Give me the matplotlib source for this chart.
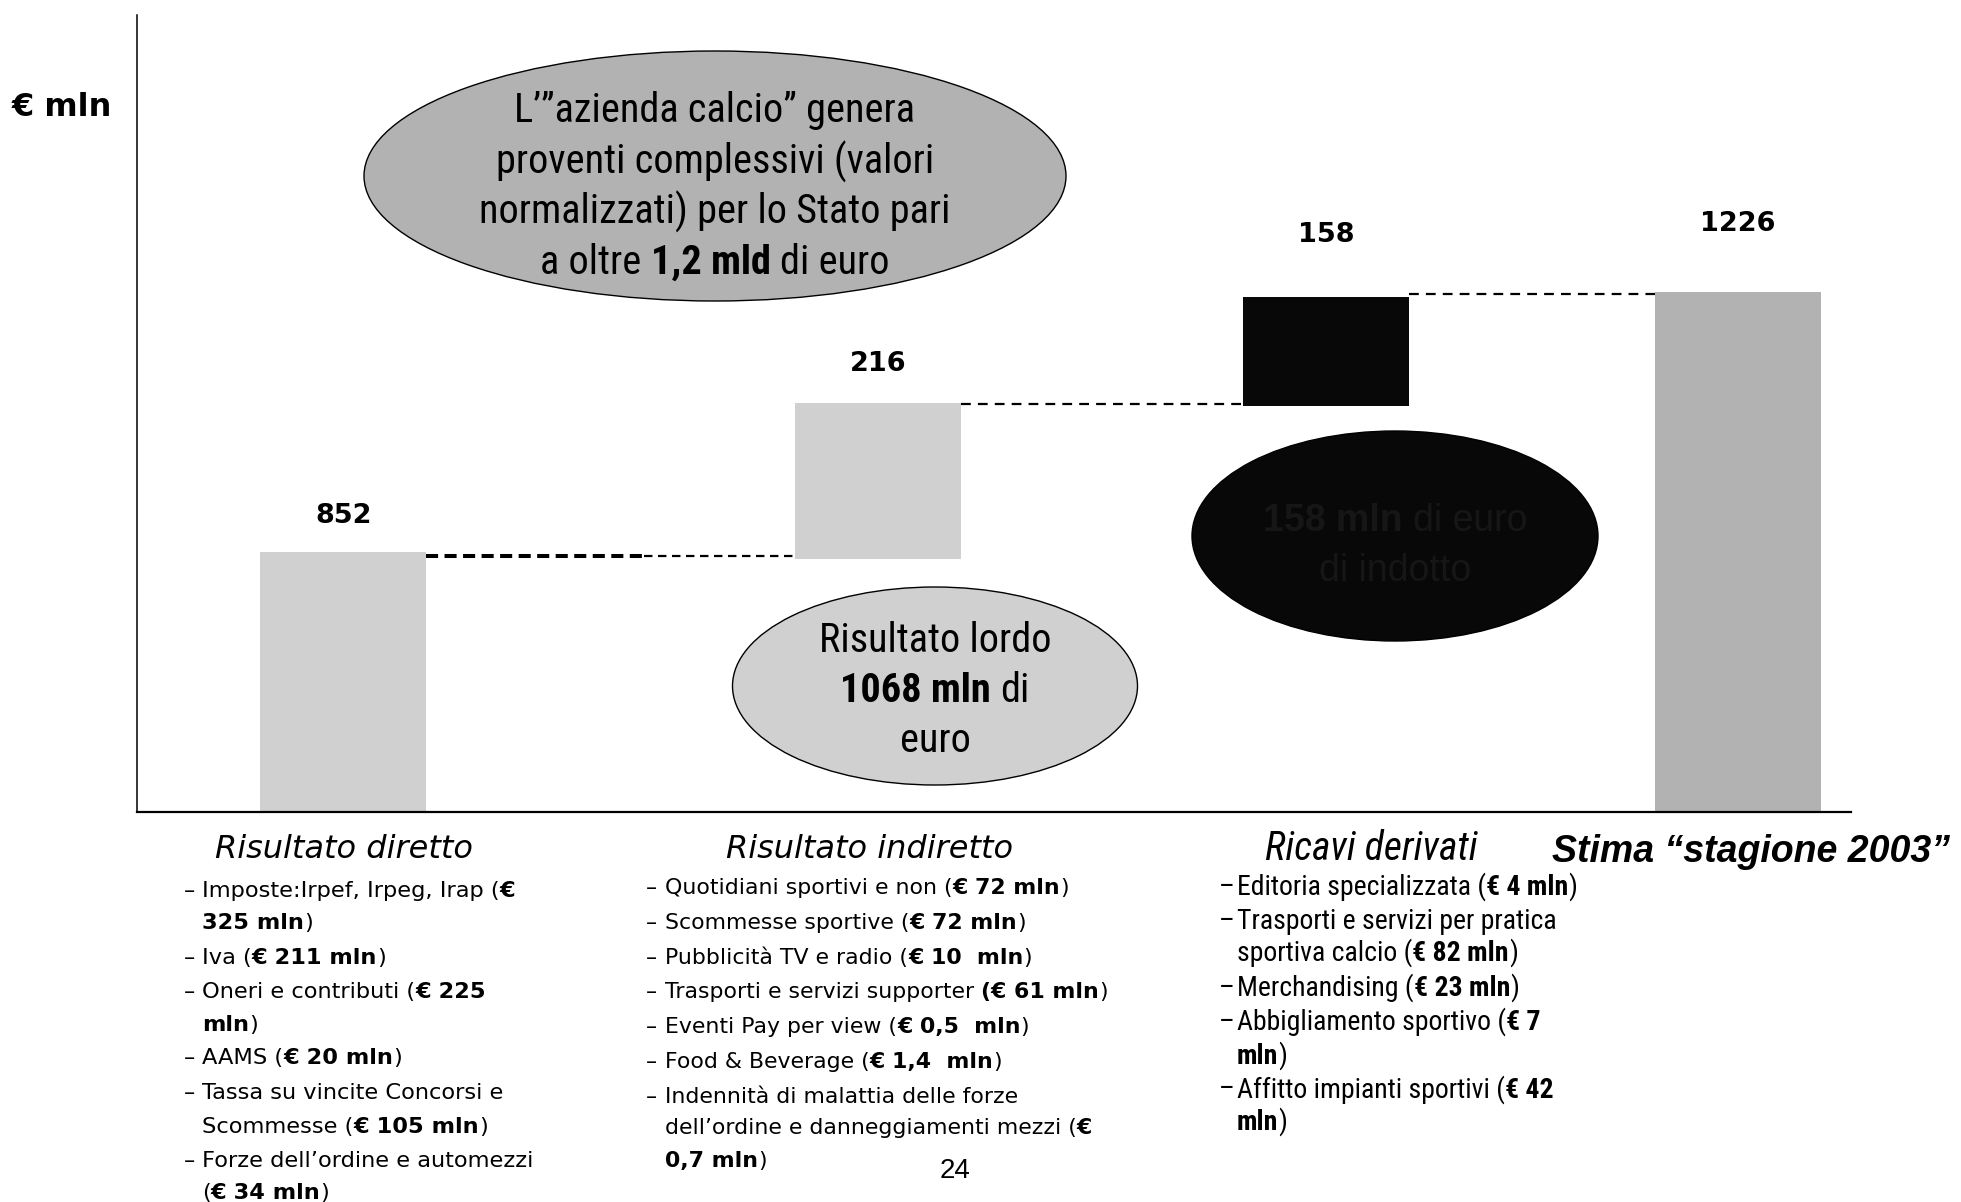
import matplotlib
matplotlib.use("Agg")
import matplotlib.pyplot as plt
from matplotlib.patches import Ellipse
from matplotlib import font_manager as fm

# ---------------- data ----------------
categories = ["Risultato diretto", "Risultato indiretto", "Ricavi derivati",
              "Stima “stagione 2003”"]
values = [852, 216, 158, 1226]                      # € mln
value_labels = [str(v) for v in values]
# bar extents as drawn in the (schematic, not to scale) chart, % of axis height
bar_bottoms = [0.0, 31.7, 51.0, 0.0]
bar_heights = [32.6, 19.6, 13.6, 65.3]
bar_colors = ["#d0d0d0", "#d0d0d0", "#080808", "#b2b2b2"]

direct_items = [
    "– Imposte:Irpef, Irpeg, Irap (**€**",
    "**325 mln**)",
    "– Iva (**€ 211 mln**)",
    "– Oneri e contributi (**€ 225**",
    "**mln**)",
    "– AAMS (**€ 20 mln**)",
    "– Tassa su vincite Concorsi e",
    "Scommesse (**€ 105 mln**)",
    "– Forze dell’ordine e automezzi",
    "(**€ 34 mln**)",
]
indirect_items = [
    "– Quotidiani sportivi e non (**€ 72 mln**)",
    "– Scommesse sportive (**€ 72 mln**)",
    "– Pubblicità TV e radio (**€ 10  mln**)",
    "– Trasporti e servizi supporter **(€ 61 mln**)",
    "– Eventi Pay per view (**€ 0,5  mln**)",
    "– Food & Beverage (**€ 1,4  mln**)",
    "– Indennità di malattia delle forze",
    "dell’ordine e danneggiamenti mezzi (**€**",
    "**0,7 mln**)",
]
derived_items = [
    "– Editoria specializzata (**€ 4 mln**)",
    "– Trasporti e servizi per pratica",
    "sportiva calcio (**€ 82 mln**)",
    "– Merchandising (**€ 23 mln**)",
    "– Abbigliamento sportivo (**€ 7**",
    "**mln**)",
    "– Affitto impianti sportivi (**€ 42**",
    "**mln**)",
]
bubble_total = ["L’”azienda calcio” genera", "proventi complessivi (valori",
                "normalizzati) per lo Stato pari", "a oltre **1,2 mld** di euro"]
bubble_gross = ["Risultato lordo", "**1068 mln** di", "euro"]
bubble_induced = ["**158 mln** di euro", "di indotto"]
page_number = "24"

# ---------------- fonts ----------------
W, H, DPI = 1961, 1202, 100
names = {f.name for f in fm.fontManager.ttflist}
dejavu_cond = any(f.name == "DejaVu Sans" and "Condensed" in f.fname
                  for f in fm.fontManager.ttflist)
if "Liberation Sans Narrow" in names:
    NARROW = dict(family="Liberation Sans Narrow")
elif "Roboto Condensed" in names:
    NARROW = dict(family="Roboto Condensed")
elif dejavu_cond:
    NARROW = dict(family="DejaVu Sans", stretch="condensed")
else:
    NARROW = dict(family="Liberation Sans")
VERD = dict(family="DejaVu Sans")
ARIAL = dict(family="Liberation Sans")

fig = plt.figure(figsize=(W / DPI, H / DPI), dpi=DPI)
fig.patch.set_facecolor("white")
renderer = fig.canvas.get_renderer()

_space_cache = {}


def space_w(size, font, weight, style):
    key = (size, tuple(sorted(font.items())), weight, style)
    if key not in _space_cache:
        kw = dict(fontsize=size, fontweight=weight, style=style, **font)
        t1 = fig.text(0, 0, "a a", **kw)
        t2 = fig.text(0, 0, "aa", **kw)
        w = t1.get_window_extent(renderer).width - t2.get_window_extent(renderer).width
        t1.remove(); t2.remove()
        _space_cache[key] = w
    return _space_cache[key]


def rich(x, yc, s, size, font, color="black", ha="left", style="normal", allbold=False):
    """Draw a line with **bold** segments; x, yc in px from the top-left."""
    segs = s.split("**")
    layout = []
    cur = 0.0
    for i, seg in enumerate(segs):
        if seg == "":
            continue
        bold = allbold or (i % 2 == 1)
        weight = "bold" if bold else "normal"
        sw = space_w(size, font, weight, style)
        lead = len(seg) - len(seg.lstrip(" "))
        trail = len(seg) - len(seg.rstrip(" "))
        core = seg.strip(" ")
        cur += lead * sw
        if core:
            t = fig.text(0, 0, core, fontsize=size, fontweight=weight, style=style,
                         color=color, ha="left", va="baseline", **font)
            w = t.get_window_extent(renderer).width
            layout.append((t, cur))
            cur += w
        cur += trail * sw
    x0 = x - cur / 2 if ha == "center" else x
    base = yc + 0.36 * size * DPI / 72
    for t, off in layout:
        t.set_position(((x0 + off) / W, 1 - base / H))


# ---------------- main axes ----------------
ax_left, ax_right, ax_top, ax_bottom = 137, 1851, 15, 812
ax = fig.add_axes([ax_left / W, 1 - ax_bottom / H,
                   (ax_right - ax_left) / W, (ax_bottom - ax_top) / H])
x_pos = [0.0, 1.151, 2.115, 3.0]
bar_w = 0.357
ax.bar(x_pos, bar_heights, bottom=bar_bottoms, width=bar_w, color=bar_colors,
       edgecolor="none", zorder=2)
ax.set_xlim(-0.444, 3.244)
ax.set_ylim(0, 100)
for sp in ("top", "right"):
    ax.spines[sp].set_visible(False)
ax.spines["left"].set_linewidth(1.1)
ax.spines["bottom"].set_linewidth(1.6)
ax.set_xticks([])
ax.set_yticks([])
ax.patch.set_alpha(0)

# connectors between bars
tops = [b + h for b, h in zip(bar_bottoms, bar_heights)]
for i in range(3):
    x0 = x_pos[i] + bar_w / 2
    x1 = x_pos[i + 1] - bar_w / 2
    nxt = bar_bottoms[i + 1] if i < 2 else tops[i + 1]
    lvl = (tops[i] + nxt) / 2
    if i == 0:
        xm = x0 + 0.59 * (x1 - x0)
        ln, = ax.plot([x0, xm], [lvl, lvl], color="black", lw=2.9,
                      dash_capstyle="butt", zorder=3)
        ln.set_dashes((3.0, 1.6))
        ln2, = ax.plot([xm, x1], [lvl, lvl], color="black", lw=1.6, dash_capstyle="butt",
                       zorder=3)
        ln2.set_dashes((3.8, 2.5))
    else:
        ln, = ax.plot([x0, x1], [lvl, lvl], color="black", lw=1.6, dash_capstyle="butt",
                      zorder=3)
        ln.set_dashes((4.4, 3.2))

# value labels above bars
label_offsets_px = [36.5, 39, 62.5, 67.5]
for x, t, lab, off in zip(x_pos, tops, value_labels, label_offsets_px):
    ax.annotate(lab, xy=(x, t), xytext=(0, off * 72 / DPI), textcoords="offset points",
                ha="center", va="center", fontsize=19.5, fontweight="bold",
                annotation_clip=False, **VERD)

# ---------------- texts ----------------
rich(12, 105, "€ mln", 23, VERD, allbold=True)

# ellipses
ell_specs = [  # cx, cy, w, h, face
    (715, 176, 702, 250, "#b2b2b2"),
    (935, 686, 405, 198, "#d0d0d0"),
    (1395, 536, 406, 210, "#080808"),
]
for cx, cy, w, h, fc in ell_specs:
    fig.add_artist(Ellipse((cx / W, 1 - cy / H), w / W, h / H, transform=fig.transFigure,
                           facecolor=fc, edgecolor="black", lw=1.0, zorder=1.5))

for line, y in zip(bubble_total, [107.5, 159, 209, 259]):
    rich(715, y, line, 29, NARROW, ha="center")
for line, y in zip(bubble_gross, [637.5, 687.5, 737.5]):
    rich(935, y, line, 29, NARROW, ha="center")
for line, y in zip(bubble_induced, [517.5, 567.5]):
    rich(1395, y, line, 27, ARIAL, ha="center", color="#161616")

# category labels
rich(344, 846, categories[0], 23, VERD, ha="center", style="italic")
rich(870, 846, categories[1], 23, VERD, ha="center", style="italic")
rich(1371, 846, categories[2], 28.5, NARROW, ha="center", style="italic")
rich(1751, 849, categories[3], 27, ARIAL, ha="center", style="italic", allbold=True)


def draw_list(items, x_dash, x_text, ys, size, font):
    for s, y in zip(items, ys):
        if s.startswith("– "):
            rich(x_dash, y, "–", size, font)
            s = s[2:]
        rich(x_text, y, s, size, font)


draw_list(direct_items, 184, 202,
          [889, 921, 956, 990, 1022.5, 1056, 1091, 1125, 1159, 1191], 16.2, VERD)
draw_list(indirect_items, 646, 665,
          [886, 921, 956, 990, 1025, 1060, 1095, 1126, 1159], 15.8, VERD)
draw_list(derived_items, 1219, 1237,
          [885, 919, 951, 986, 1020, 1054, 1087.5, 1120], 20, NARROW)

rich(955, 1167.5, page_number, 20, ARIAL, ha="center")

fig.savefig("out.png", dpi=DPI, facecolor="white")
